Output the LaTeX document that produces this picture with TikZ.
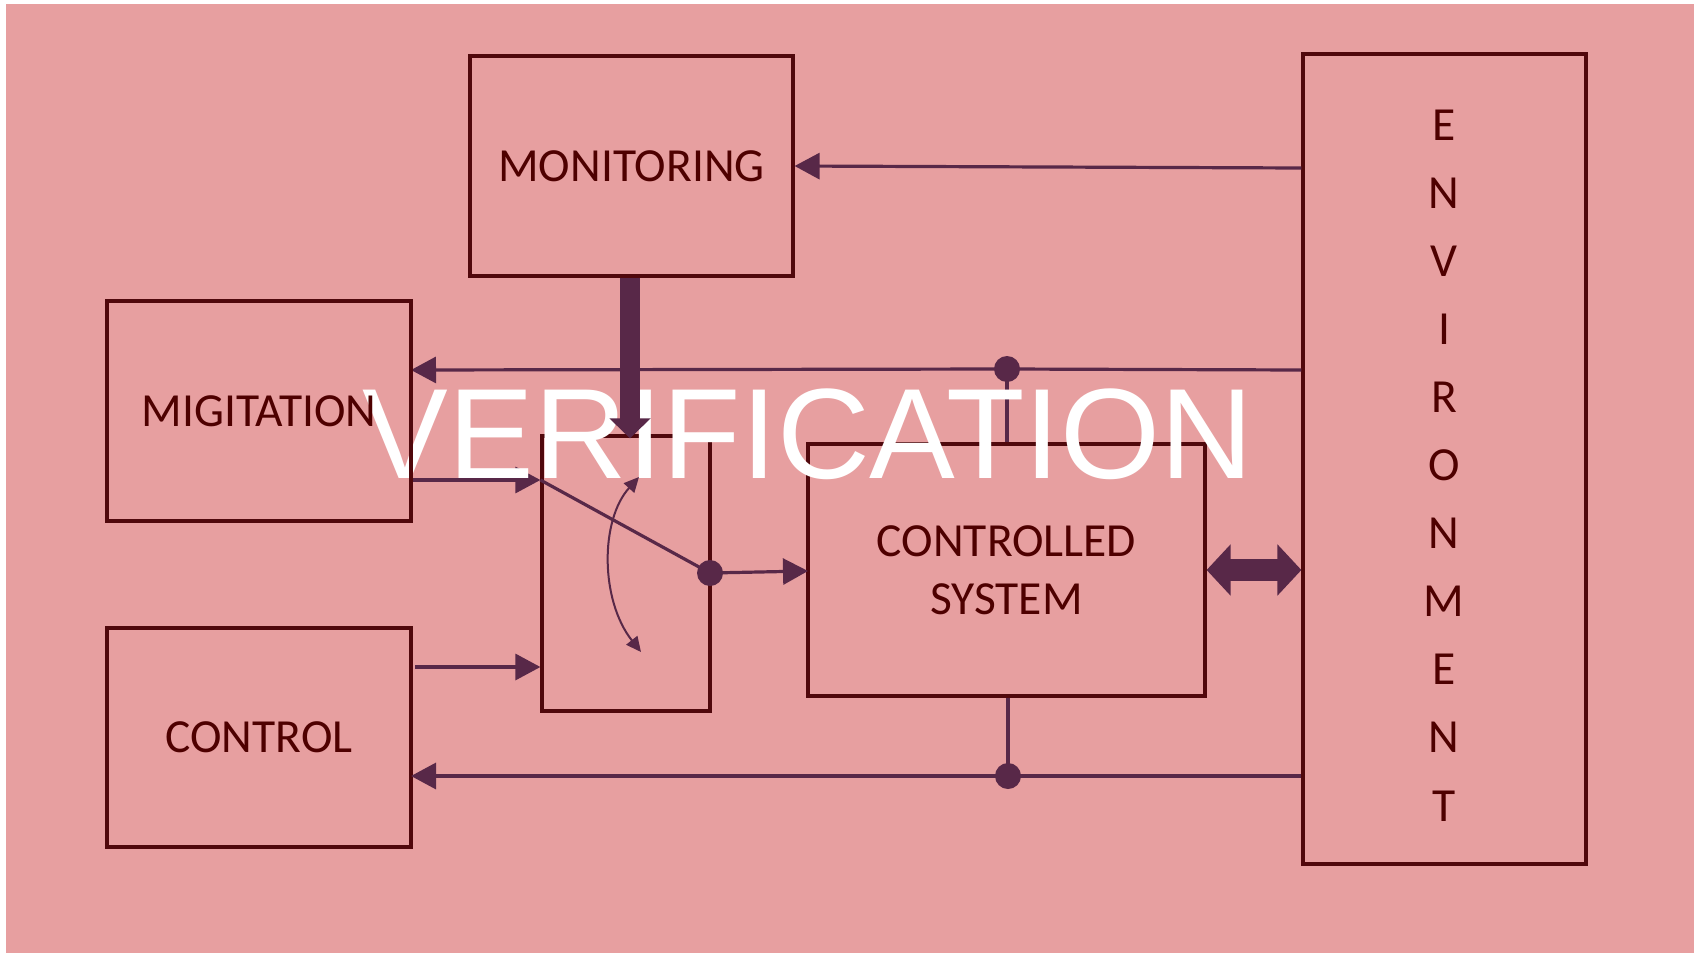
\documentclass[tikz,border=0pt]{standalone}
\usepackage{fontspec}
\setmainfont{Carlito}
\newfontfamily\bannerfont{Liberation Sans}
\usetikzlibrary{arrows.meta,calc}

\definecolor{pagebg}{RGB}{231,159,160}
\definecolor{boxline}{RGB}{80,8,12}
\definecolor{labeltext}{RGB}{78,0,0}
\definecolor{wire}{RGB}{88,40,72}

\tikzset{
  blockbox/.style={draw=boxline, line width=3.2pt, rectangle, inner sep=0pt,
    text=labeltext, font=\fontsize{47.5}{58}\selectfont, align=center},
  wire/.style={draw=wire, line width=3.2pt},
  wirearrow/.style={wire, -{Triangle[length=25pt,width=26pt]}},
  junction/.style={circle, fill=wire, minimum size=26pt, inner sep=0pt},
  envletter/.style={text=labeltext, font=\fontsize{47.5}{58}\selectfont, anchor=base, inner sep=0pt},
  swing/.style={draw=wire, line width=2pt,
    {Triangle[length=15pt,width=14pt]}-{Triangle[length=15pt,width=14pt]}},
  fatarrow/.style={draw=wire, line width=20pt, -{Triangle[length=20pt,width=40pt]}},
  fatdouble/.style={draw=wire, line width=22pt,
    {Triangle[length=24pt,width=50pt]}-{Triangle[length=24pt,width=50pt]}},
}

\begin{document}
\begin{tikzpicture}[x=1pt,y=-1pt]
  % page and backdrop
  \useasboundingbox (0,0) rectangle (1694,953);
  \fill[white] (0,0) rectangle (1694,953);
  \fill[pagebg] (6,4) rectangle (1694,953);

  % blocks
  \node[blockbox, minimum width=323pt, minimum height=220pt] (mon) at (631.5,166) {MONITORING};
  \node[blockbox, minimum width=304pt, minimum height=219pt] (ctl) at (259,737.5) {CONTROL};
  \node[blockbox, minimum width=168pt, minimum height=275pt] (sw) at (626,573.5) {};
  \node[blockbox, minimum width=397pt, minimum height=252pt] (cs) at (1006.5,570) {CONTROLLED\\SYSTEM};
  \node[blockbox, minimum width=283pt, minimum height=810pt] (env) at (1444.5,459) {};
  \foreach \ch [count=\i from 0] in {E,N,V,I,R,O,N,M,E,N,T}
    \node[envletter] (envl\i) at (1444,140+68.1*\i) {\ch};

  % signal levels
  \coordinate (yMon) at (0,168);
  \coordinate (yMid) at (0,370);
  \coordinate (yLow) at (0,776);
  \coordinate (yIn1) at (0,480);
  \coordinate (yIn2) at (0,667);

  % junction dots
  \node[junction] (d1) at (1007,369) {};
  \node[junction] (d2) at (1008,776) {};
  \node[junction] (dsw) at (710,573) {};
  \coordinate (csin) at (808,571);
  \coordinate (swa) at (641,652);
  \coordinate (swb) at (639,477);

  % wires from the environment
  \draw[wirearrow] (env.west |- yMon) -- (mon.east);
  \draw[wire] (env.west |- yMid) -- (d1.center);
  \draw[wirearrow] (d1.center) -- (411,370);
  \draw[wire] (d1.center) -- (cs.north -| d1);
  \draw[wire] (env.west |- yLow) -- (d2.center);
  \draw[wirearrow] (d2.center) -- (411,776);
  \draw[wire] (cs.south -| d2) -- (d2.center);

  % inputs to the switch and its output
  \draw[wirearrow] (412,480) -- (sw.west |- yIn1);
  \draw[wirearrow] (415,667) -- (sw.west |- yIn2);
  \draw[wire] (sw.west |- yIn1) -- (dsw.center);
  \draw[wirearrow] (dsw.center) -- (csin);
  \draw[swing] (swa) .. controls (600,600) and (600,520) .. (swb);

  % exchange between system and environment
  \draw[fatdouble] (cs.east) -- (env.west |- cs.east);

  % overlay title
  \node[anchor=base, inner sep=0pt, text=white, font=\bannerfont\fontsize{128.5}{128}\selectfont] (ver) at (808,478) {VERIFICATION};

  % mitigation block sits over the title
  \node[blockbox, minimum width=304pt, minimum height=220pt] (mig) at (259,411) {MIGITATION};

  % monitoring feed into the switch
  \draw[fatarrow] ([xshift=-1.5pt]mon.south) -- ([xshift=-1.5pt,yshift=-4pt]sw.north -| mon.south);
\end{tikzpicture}
\end{document}
